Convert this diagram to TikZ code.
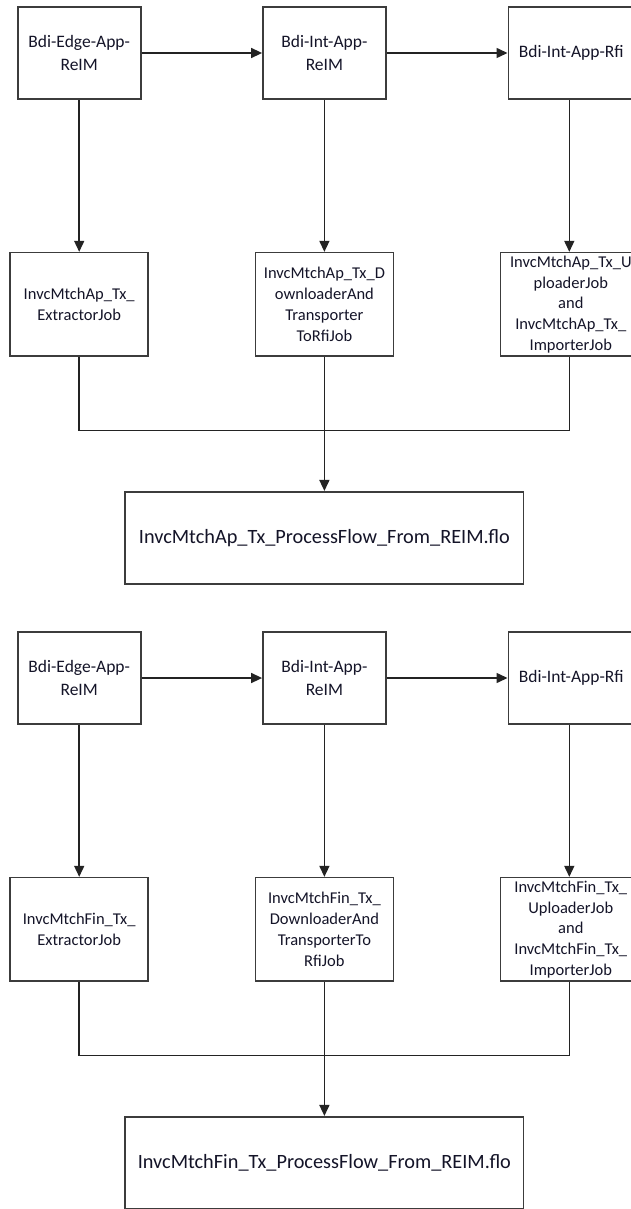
\documentclass[tikz,border=0pt]{standalone}
\usepackage{fontspec}
\setmainfont{Carlito}
\usetikzlibrary{arrows.meta}
\definecolor{boxline}{RGB}{60,60,60}
\definecolor{conline}{RGB}{35,35,35}
\definecolor{txt}{RGB}{20,20,40}
\tikzset{
  basebox/.style={draw=boxline, line width=1.6pt, fill=white, inner sep=0pt, align=center, text=txt},
  appbox/.style={basebox, minimum width=123pt, minimum height=92.5pt, font=\fontsize{17.5}{23}\selectfont},
  jobbox/.style={basebox, minimum width=138pt, minimum height=103.3pt, font=\fontsize{16.5}{20.7}\selectfont},
  flobox/.style={basebox, minimum width=398.3pt, minimum height=92.3pt, font=\fontsize{20.3}{24}\selectfont},
  conn/.style={draw=conline, line width=1.5pt},
  arr/.style={conn, -{Triangle[length=11pt,width=10pt]}}
}
\begin{document}
\begin{tikzpicture}[x=1pt,y=-1pt]
\useasboundingbox (0,0) rectangle (631,1209);
% ---------- upper flow ----------
\node[appbox] (a1) at (79.2,53) {Bdi-Edge-App-\\ReIM};
\node[appbox] (b1) at (324.4,53) {Bdi-Int-App-\\ReIM};
\node[appbox, minimum width=126pt] (c1) at (571.3,53) {Bdi-Int-App-Rfi};
\node[jobbox] (a2) at (79.2,304.3) {InvcMtchAp\_Tx\_\\ExtractorJob};
\node[jobbox] (b2) at (324.4,304.3) {InvcMtchAp\_Tx\_D\\ownloaderAnd\\Transporter\\ToRfiJob};
\node[jobbox, minimum width=141pt] (c2) at (570.8,304.3) {InvcMtchAp\_Tx\_U\\ploaderJob\\and\\InvcMtchAp\_Tx\_\\ImporterJob};
\node[flobox] (f1) at (324.4,537.9) {InvcMtchAp\_Tx\_ProcessFlow\_From\_REIM.flo};
\coordinate (j1) at (324.4,430.7);
\coordinate (k1) at (569.3,430.7);
\draw[arr] (a1) -- (b1);
\draw[arr] (b1) -- (c1);
\draw[arr] (a1) -- (a2);
\draw[arr] (b1) -- (b2);
\draw[arr] (c1.south -| k1) -- (c2.north -| k1);
\draw[conn] (a2.south) |- (k1) -- (c2.south -| k1);
\draw[conn] (b2.south) -- (j1);
\draw[arr] (j1) -- (f1.north);
% ---------- lower flow ----------
\node[appbox] (a3) at (79.2,678) {Bdi-Edge-App-\\ReIM};
\node[appbox] (b3) at (324.4,678) {Bdi-Int-App-\\ReIM};
\node[appbox, minimum width=126pt] (c3) at (571.3,678) {Bdi-Int-App-Rfi};
\node[jobbox] (a4) at (79.2,929.3) {InvcMtchFin\_Tx\_\\ExtractorJob};
\node[jobbox] (b4) at (324.4,929.3) {InvcMtchFin\_Tx\_\\DownloaderAnd\\TransporterTo\\RfiJob};
\node[jobbox, minimum width=141pt] (c4) at (570.8,929.3) {InvcMtchFin\_Tx\_\\UploaderJob\\and\\InvcMtchFin\_Tx\_\\ImporterJob};
\node[flobox] (f2) at (324.4,1162.9) {InvcMtchFin\_Tx\_ProcessFlow\_From\_REIM.flo};
\coordinate (j2) at (324.4,1055.7);
\coordinate (k2) at (569.3,1055.7);
\draw[arr] (a3) -- (b3);
\draw[arr] (b3) -- (c3);
\draw[arr] (a3) -- (a4);
\draw[arr] (b3) -- (b4);
\draw[arr] (c3.south -| k2) -- (c4.north -| k2);
\draw[conn] (a4.south) |- (k2) -- (c4.south -| k2);
\draw[conn] (b4.south) -- (j2);
\draw[arr] (j2) -- (f2.north);
\end{tikzpicture}
\end{document}
